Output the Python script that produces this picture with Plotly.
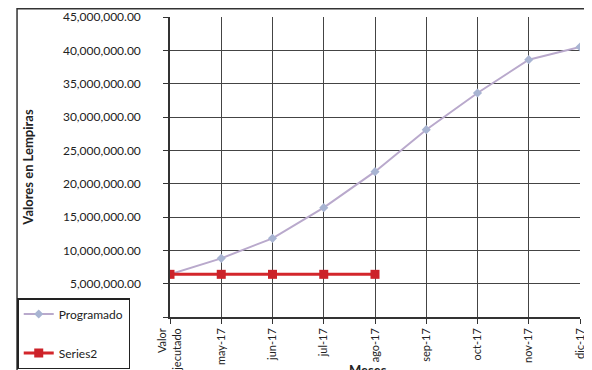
from plotly import graph_objects as go

meses = ["Valor<br>Ejecutado", "may-17", "jun-17", "jul-17", "ago-17",
         "sep-17", "oct-17", "nov-17", "dic-17"]
programado = [6400000, 8800000, 11800000, 16400000, 21800000,
              28100000, 33600000, 38600000, 40500000]
series2 = [6400000, 6400000, 6400000, 6400000, 6400000]

y_ticks = list(range(0, 45000001, 5000000))
y_labels = ["" if v == 0 else f"{v:,.2f}" for v in y_ticks]

FAM = "Lato, 'Open Sans', sans-serif"
W, H = 592, 370
# page body has an 8px margin, so figure coords = window coords - 8
L, R, T, B = 156, 20, 9, 60
pw, ph = W - L - R, H - T - B

fig = go.Figure()
fig.add_trace(go.Scatter(x=meses, y=programado, name="Programado", mode="lines+markers",
                         line=dict(color="#b9a9cc", width=2),
                         marker=dict(symbol="diamond", size=7, color="#a8b4d2"),
                         legendgroup="a"))
fig.add_trace(go.Scatter(x=meses[:len(series2)], y=series2, name="Series2", mode="lines+markers",
                         line=dict(color="#d3262b", width=3),
                         marker=dict(symbol="square", size=9, color="#cc2229"),
                         legendgroup="b"))

fig.update_layout(
    width=W, height=H,
    margin=dict(l=L, r=R, t=T, b=B),
    paper_bgcolor="white", plot_bgcolor="white",
    font=dict(family=FAM, size=12, color="#222"),
    showlegend=True,
    legend=dict(x=(1 - L) / pw, y=(H - B - 291) / ph,
                xanchor="left", yanchor="top",
                bordercolor="#222", borderwidth=1.5, bgcolor="white",
                tracegroupgap=20, traceorder="grouped", itemwidth=30,
                font=dict(family=FAM, size=12, color="#222")),
    xaxis=dict(type="category", range=[0, 8], tickangle=-90, automargin=False,
               showgrid=True, gridcolor="#444", gridwidth=1,
               showline=True, linecolor="#333", linewidth=1.5,
               ticks="outside", ticklen=5, tickcolor="#333",
               tickfont=dict(size=11)),
    yaxis=dict(range=[0, 45000000], tickvals=y_ticks, ticktext=y_labels, automargin=False,
               showgrid=True, gridcolor="#444", gridwidth=1,
               showline=True, linecolor="#333", linewidth=1.5,
               ticks="outside", ticklen=5, tickcolor="#333",
               ticklabelstandoff=20,
               title=dict(text="<b>Valores en Lempiras</b>", standoff=26,
                          font=dict(family=FAM, size=13))),
    annotations=[dict(text="<b>Meses</b>", xref="paper", yref="paper",
                      x=(357 - L) / pw, y=-(353 - (H - B)) / ph,
                      xanchor="center", yanchor="top",
                      showarrow=False, font=dict(family=FAM, size=13, color="#222"))],
    shapes=[dict(type="rect", xref="paper", yref="paper",
                 x0=(0.8 - L) / pw, x1=1.2, y0=-0.4, y1=1 + (T - 0.8) / ph,
                 line=dict(color="#333", width=1.5), layer="below")],
)

fig.write_html("out.html")
